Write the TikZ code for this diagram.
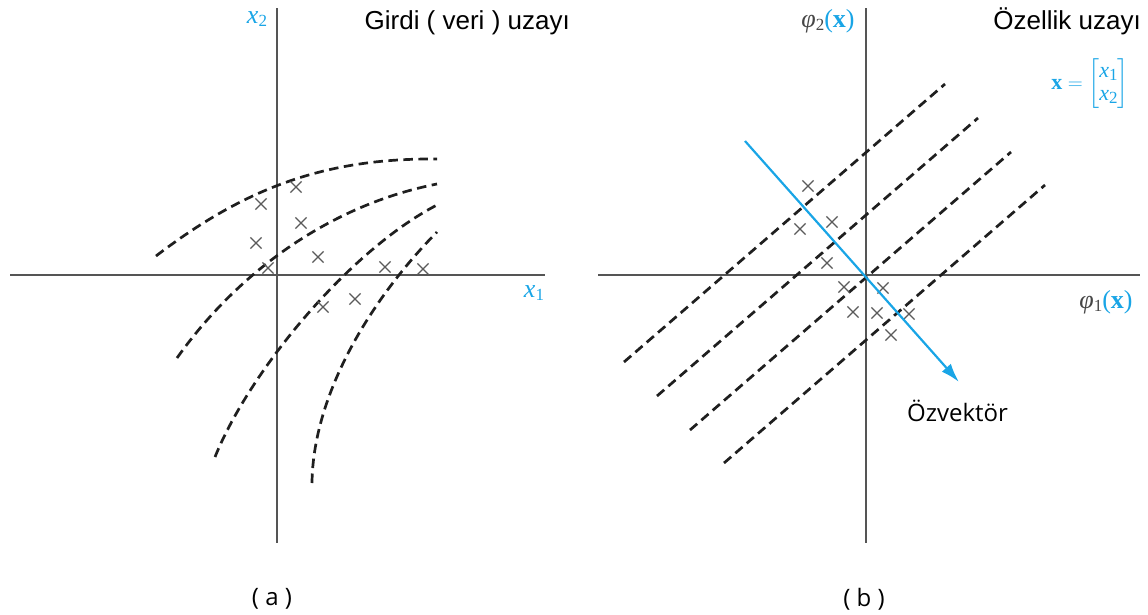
\documentclass[tikz,border=0pt]{standalone}
\usepackage{amsmath}
\usepackage{fontspec}
\newfontfamily\arialf{Liberation Sans}
\newfontfamily\segoef{Open Sans}
\newfontfamily\timesf{Liberation Serif}
\usetikzlibrary{shapes.misc,arrows.meta}
\definecolor{axisgray}{RGB}{85,85,85}
\definecolor{crossgray}{RGB}{90,90,90}
\definecolor{eigblue}{RGB}{25,165,230}
\definecolor{phigray}{RGB}{70,70,70}
\newcommand{\vx}{\textbf{x}}
\newcommand{\ix}{\textit{x}}
\newcommand{\subsc}[1]{\raisebox{-0.3ex}{\fontsize{17}{18}\selectfont #1}}
\tikzset{
  axisline/.style={draw=axisgray, line width=1.9pt},
  boundary/.style={draw=black!88, line width=2.7pt, dash pattern=on 9.5pt off 5.5pt},
  sample/.style={cross out, draw=crossgray, line width=1.2pt, minimum size=10pt, inner sep=0pt},
  eigvec/.style={draw=eigblue, line width=2.2pt, -{Latex[length=19pt,width=12pt]}},
  spacelabel/.style={font=\arialf\fontsize{26}{30}\selectfont, inner sep=0pt},
  caplabel/.style={font=\segoef\fontsize{24}{28}\selectfont, inner sep=0pt},
  mathlabel/.style={font=\timesf\fontsize{26}{30}\selectfont, inner sep=0pt},
}
\begin{document}
\begin{tikzpicture}[x=1pt,y=-1pt]
\useasboundingbox (0,0) rectangle (1148,614);
% ---------- panel (a) ----------
\coordinate (aL) at (10,275);
\coordinate (aR) at (545,275);
\coordinate (aT) at (277,8);
\coordinate (aB) at (277,543);
\draw[axisline] (aL) -- (aR);
\draw[axisline] (aT) -- (aB);
\node[mathlabel, text=eigblue] (ax2) at (257,19) {\ix\subsc{2}};
\node[mathlabel, text=eigblue] (ax1) at (534,293) {\ix\subsc{1}};
\node[spacelabel, anchor=base east] (atitle) at (570,29) {Girdi ( veri ) uzayı};
\node[caplabel] (acap) at (272,599) {( a )};
% boundaries
\coordinate (c1s) at (156,256); \coordinate (c1e) at (437,159);
\coordinate (c2s) at (177,358); \coordinate (c2e) at (437,184);
\coordinate (c3s) at (215,457); \coordinate (c3e) at (437,205);
\coordinate (c4s) at (312,483); \coordinate (c4e) at (437,232);
\draw[boundary] (c1s) .. controls (245,188) and (325,158) .. (c1e);
\draw[boundary] (c2s) .. controls (238,272) and (330,205) .. (c2e);
\draw[boundary] (c3s) .. controls (250,370) and (350,250) .. (c3e);
\draw[boundary] (c4s) .. controls (313,395) and (370,300) .. (c4e);
% samples
\node[sample] (a1) at (296,187) {};
\node[sample] (a2) at (261,204) {};
\node[sample] (a3) at (301,223) {};
\node[sample] (a4) at (256,243) {};
\node[sample] (a5) at (318,257) {};
\node[sample] (a6) at (268,268) {};
\node[sample] (a7) at (385,267) {};
\node[sample] (a8) at (423,269) {};
\node[sample] (a9) at (323,307) {};
\node[sample] (a10) at (355,299) {};
% ---------- panel (b) ----------
\coordinate (bL) at (598,275);
\coordinate (bR) at (1140,275);
\coordinate (bT) at (866,8);
\coordinate (bB) at (866,543);
\coordinate (bO) at (866,275);
\draw[axisline] (bL) -- (bR);
\draw[axisline] (bT) -- (bB);
\node[mathlabel] (bphi2) at (828,21) {\textcolor{phigray}{\textit{φ}\subsc{2}}\textcolor{eigblue}{(\vx)}};
\node[mathlabel] (bphi1) at (1106,302) {\textcolor{phigray}{\textit{φ}\subsc{1}}\textcolor{eigblue}{(\vx)}};
\node[mathlabel, text=eigblue, font=\timesf\fontsize{22}{26}\selectfont] (bvec) at (1090,84) {\vx\ $=\left[\begin{matrix}\text{\ix\subsc{1}}\\[-3pt]\text{\ix\subsc{2}}\end{matrix}\right]$};
\node[spacelabel, anchor=base east] (btitle) at (1141,29) {Özellik uzayı};
\node[caplabel] (bcap) at (864,599) {( b )};
% parallel boundaries
\coordinate (l1s) at (624,362); \coordinate (l1e) at (945,84);
\coordinate (l2s) at (657,396); \coordinate (l2e) at (978,118);
\coordinate (l3s) at (690,430); \coordinate (l3e) at (1011,152);
\coordinate (l4s) at (724,463); \coordinate (l4e) at (1045,185);
\draw[boundary] (l1s) -- (l1e);
\draw[boundary] (l2s) -- (l2e);
\draw[boundary] (l3s) -- (l3e);
\draw[boundary] (l4s) -- (l4e);
% samples
\node[sample] (b1) at (808,186) {};
\node[sample] (b2) at (800,229) {};
\node[sample] (b3) at (832,222) {};
\node[sample] (b4) at (827,263) {};
\node[sample] (b5) at (844,287) {};
\node[sample] (b6) at (883,288) {};
\node[sample] (b7) at (853,312) {};
\node[sample] (b8) at (877,313) {};
\node[sample] (b9) at (909,314) {};
\node[sample] (b10) at (891,335) {};
% eigenvector
\coordinate (es) at (745,141);
\coordinate (ee) at (959,382);
\draw[eigvec] (es) -- (ee);
\node[caplabel, anchor=base west] (eiglab) at (907,421) {Özvektör};
\end{tikzpicture}
\end{document}
